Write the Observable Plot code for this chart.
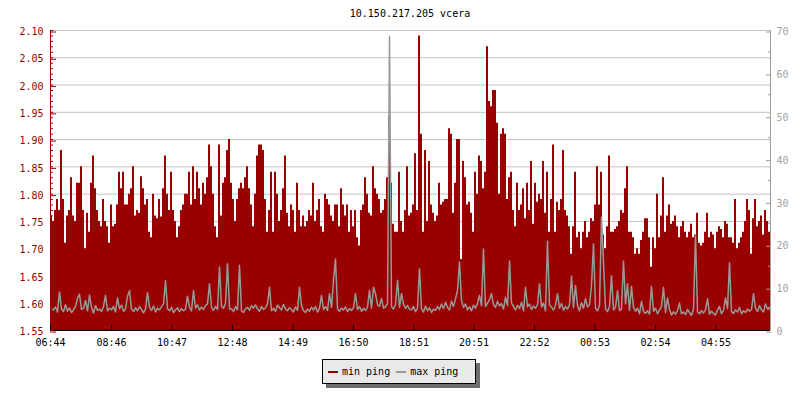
<!DOCTYPE html>
<html>
<head>
<meta charset="utf-8">
<script src="https://cdn.jsdelivr.net/npm/d3@7"></script>
<script src="https://cdn.jsdelivr.net/npm/@observablehq/plot@0.6"></script>
<style>
  body { margin: 0; background: #fff; font-family: "DejaVu Sans Mono", monospace; }
  #wrap { position: relative; width: 800px; height: 400px; }
  #chart svg { display: block; }
  #title { position: absolute; left: 50px; width: 720px; top: 8px; text-align: center;
           font-size: 10px; line-height: 12px; color: #000; }
  #legend { position: absolute; left: 322px; top: 359px; width: 152px; height: 23px;
            background: #e9e9e9; border: 1px solid #000; box-shadow: 4px 4px 0 #6e6e6e;
            font-size: 10px; line-height: 12px; display: flex; align-items: center; color: #000; }
  #legend .sw { display: inline-block; width: 10px; height: 2px; margin: 0 4px 0 5px; }
  #legend .item { display: flex; align-items: center; white-space: pre; }
</style>
</head>
<body>
<div id="wrap">
  <div id="chart"></div>
  <div id="title"></div>
  <div id="legend"></div>
</div>
<script>
const chartTitle = "10.150.217.205 vcera";
const seriesNames = ["min ping", "max ping"];
const seriesColors = ["#990000", "#999999"];

// left axis (min ping) ticks
const leftTicks = [1.55, 1.60, 1.65, 1.70, 1.75, 1.80, 1.85, 1.90, 1.95, 2.00, 2.05, 2.10];
// right axis (max ping) ticks
const rightTicks = [0, 10, 20, 30, 40, 50, 60, 70];
const rightMinor = [5, 15, 25, 35, 45, 55, 65];
// time axis labels
const timeLabels = ["06:44", "08:46", "10:47", "12:48", "14:49", "16:50", "18:51", "20:51", "22:52", "00:53", "02:54", "04:55"];
const spanMinutes = 1440;

// min ping samples (every 4 minutes from 06:44)
const minPing = [
1.76,1.75,1.77,1.79,1.77,1.88,1.79,1.71,1.76,1.77,
1.83,1.76,1.75,1.82,1.82,1.85,1.77,1.70,1.765,1.73,
1.82,1.87,1.81,1.77,1.75,1.74,1.79,1.75,1.74,1.71,
1.78,1.74,1.745,1.78,1.84,1.81,1.84,1.78,1.78,1.80,
1.81,1.85,1.76,1.77,1.765,1.832,1.81,1.78,1.79,1.73,
1.72,1.80,1.76,1.755,1.79,1.758,1.81,1.87,1.80,1.77,
1.84,1.77,1.75,1.72,1.74,1.77,1.78,1.80,1.80,1.84,
1.78,1.85,1.79,1.84,1.81,1.78,1.82,1.80,1.83,1.89,
1.85,1.80,1.74,1.72,1.89,1.76,1.82,1.83,1.88,1.90,

1.82,1.79,1.75,1.79,1.81,1.82,1.81,1.83,1.85,1.81,
1.78,1.74,1.80,1.87,1.89,1.89,1.88,1.79,1.73,1.77,
1.84,1.73,1.84,1.80,1.75,1.77,1.81,1.87,1.765,1.74,
1.78,1.77,1.73,1.82,1.77,1.74,1.76,1.74,1.75,1.77,
1.76,1.82,1.75,1.77,1.79,1.74,1.73,1.80,1.79,1.78,
1.76,1.75,1.78,1.78,1.74,1.81,1.78,1.76,1.78,1.73,
1.77,1.74,1.77,1.72,1.705,1.77,1.78,1.83,1.80,1.765,
1.76,1.85,1.81,1.80,1.79,1.765,1.77,1.79,1.83,1.94,
1.82,1.745,1.73,1.73,1.84,1.75,1.73,1.77,1.85,1.76,

1.765,1.78,1.874,1.77,2.09,1.91,1.73,1.88,1.75,1.86,
1.78,1.765,1.75,1.76,1.82,1.78,1.785,1.79,1.79,1.92,
1.91,1.765,1.82,1.90,1.90,1.68,1.86,1.83,1.78,1.785,
1.765,1.73,1.84,1.80,1.87,1.86,1.81,1.84,2.07,1.97,
1.96,1.99,1.99,1.93,1.80,1.91,1.92,1.91,1.79,1.83,
1.84,1.77,1.74,1.82,1.77,1.78,1.81,1.755,1.82,1.77,
1.86,1.745,1.82,1.785,1.80,1.79,1.86,1.765,1.84,1.73,
1.79,1.89,1.73,1.785,1.77,1.79,1.88,1.77,1.76,1.74,
1.69,1.74,1.84,1.72,1.73,1.70,1.73,1.75,1.72,1.73,

1.755,1.75,1.78,1.85,1.78,1.84,1.725,1.70,1.74,1.87,
1.73,1.73,1.735,1.74,1.75,1.77,1.765,1.81,1.85,1.73,
1.73,1.72,1.69,1.70,1.69,1.715,1.73,1.755,1.755,1.72,
1.666,1.72,1.70,1.80,1.72,1.76,1.83,1.73,1.76,1.78,
1.745,1.75,1.76,1.74,1.72,1.74,1.75,1.73,1.72,1.73,
1.745,1.72,1.725,1.765,1.71,1.705,1.71,1.73,1.765,1.72,
1.73,1.725,1.70,1.73,1.74,1.735,1.72,1.75,1.745,1.72,
1.72,1.71,1.79,1.70,1.71,1.72,1.73,1.75,1.79,1.77,
1.69,1.755,1.79,1.74,1.75,1.76,1.725,1.77,1.75,1.73
];

// max ping samples (ms, right axis)
const maxPing = [
5.2,4.8,5.5,4.3,9.0,5.0,4.4,6.0,4.5,5.3,
4.2,4.8,5.6,7.5,8.5,4.9,5.2,7.0,4.6,8.3,
5.4,4.1,5.8,4.7,5.0,4.4,5.6,8.2,4.6,5.2,
4.8,5.6,4.3,7.6,5.1,5.9,4.5,5.0,8.0,9.3,
5.0,4.4,5.3,4.6,5.6,4.9,4.1,5.0,8.8,5.4,
4.7,5.7,4.3,5.2,4.8,5.5,6.2,11.6,5.1,4.6,
5.4,4.2,4.8,5.3,4.4,5.1,4.6,5.0,8.0,5.4,
4.6,9.3,5.2,6.0,4.8,5.5,4.9,5.8,6.2,10.9,
5.4,4.7,5.6,4.9,14.8,5.7,5.2,6.3,15.6,5.0,

5.0,4.4,5.6,4.8,15.2,4.6,4.2,5.1,5.4,4.7,
5.8,5.2,6.0,5.0,4.5,5.6,4.9,5.3,6.2,10.1,
4.6,5.2,4.4,5.9,5.3,4.8,6.1,5.0,4.6,5.3,
4.9,4.3,5.5,4.7,10.1,5.8,4.6,4.2,5.0,4.5,
5.4,4.8,5.6,4.3,5.2,8.2,4.9,5.6,4.7,8.6,
5.4,11.7,16.7,5.0,4.5,5.2,4.8,5.5,4.4,5.1,
4.7,5.3,8.6,4.9,5.6,4.5,5.2,4.7,5.4,9.4,
5.2,10.1,8.6,6.0,5.6,7.5,5.2,5.5,6.3,68.6,
5.6,5.0,6.0,11.7,5.4,8.6,6.1,5.2,5.8,5.0,

4.8,5.6,4.4,5.2,14.4,5.0,4.3,5.7,4.6,5.3,
4.2,5.0,4.7,5.6,4.9,6.2,5.1,6.6,5.4,4.8,
6.9,5.6,7.4,9.3,16.0,7.0,5.4,6.2,4.8,5.5,
4.6,5.9,5.2,6.3,8.2,5.8,19.0,5.6,6.4,7.2,
8.6,6.0,5.4,6.8,5.7,6.3,5.0,7.8,5.8,16.2,
6.4,5.6,4.8,5.9,5.1,6.6,4.6,10.1,5.5,6.2,
4.9,5.7,5.2,6.0,10.9,5.5,6.4,4.6,20.8,6.0,
5.4,4.8,5.9,8.6,5.2,6.3,4.7,5.6,5.0,6.0,
12.7,5.3,10.5,5.8,4.6,6.5,5.2,7.4,5.5,6.0,

10.5,20.2,5.2,4.6,5.8,26.4,16.0,5.0,4.4,5.6,
12.8,4.8,5.4,9.3,4.6,5.0,16.2,6.2,10.9,4.7,
10.3,5.4,4.5,5.2,3.9,6.8,4.4,4.0,4.6,3.8,
10.3,4.5,5.2,3.9,4.8,5.6,10.1,4.2,7.6,4.9,
3.6,4.4,3.8,4.6,6.4,3.9,4.3,3.7,4.9,4.2,
3.5,5.0,22.3,4.4,3.9,4.6,4.1,4.8,7.4,3.8,
4.5,4.0,3.6,4.8,5.6,3.9,4.7,7.6,5.1,15.8,
4.4,4.0,4.8,4.3,5.4,3.9,4.6,4.2,5.0,4.5,
4.9,8.6,5.2,4.4,5.8,4.8,4.3,6.2,5.0,5.4
];

// ---- build ----
const step = spanMinutes / minPing.length;
const data = minPing.map((v, i) => ({t: i * step, min: v, max: maxPing[i]}));
const areaData = data.concat([{t: spanMinutes, min: minPing[minPing.length - 1], max: maxPing[maxPing.length - 1]}]);

const toMin = s => { const [h, m] = s.split(":").map(Number); return h * 60 + m; };
const t0 = toMin(timeLabels[0]);
const tickMinutes = timeLabels.map(s => ((toMin(s) - t0) % 1440 + 1440) % 1440);
const labelOf = new Map(tickMinutes.map((m, i) => [m, timeLabels[i]]));

const yLo = leftTicks[0], yHi = leftTicks[leftTicks.length - 1];
const toLeft = d3.scaleLinear().domain([rightTicks[0], rightTicks[rightTicks.length - 1]]).range([yLo, yHi]);
const leftMinor = d3.range(Math.round(yLo * 100), Math.round(yHi * 100) + 1).map(v => v / 100);

const red = seriesColors[0], gray = seriesColors[1];
const axisGray = "#a0a0a0";

const chart = Plot.plot({
  width: 800,
  height: 400,
  marginLeft: 50,
  marginRight: 30,
  marginTop: 30,
  marginBottom: 70,
  x: {domain: [0, spanMinutes], label: null},
  y: {domain: [yLo, yHi], label: null},
  style: {fontFamily: "DejaVu Sans Mono", fontSize: "10px", background: "#fff"},
  marks: [
    Plot.ruleY(leftTicks, {stroke: "#c2c2c2"}),
    Plot.areaY(areaData, {x: "t", y1: yLo, y2: "min", curve: "step-after", fill: red, clip: true}),
    Plot.lineY(data, {x: d => d.t + step / 2, y: d => toLeft(d.max), curve: "linear", stroke: gray, strokeWidth: 1.5, clip: true}),
    Plot.ruleX([0], {stroke: red}),
    Plot.ruleX([spanMinutes], {stroke: axisGray}),
    Plot.ruleY([yLo], {stroke: "#000"}),
    Plot.axisY(leftMinor, {anchor: "left", tickSize: -3, tickFormat: () => "", color: red, label: null}),
    Plot.axisY(leftTicks, {anchor: "left", tickSize: -6, tickPadding: 13, dy: 1.5, tickFormat: d3.format(".2f"), color: red, label: null}),
    Plot.axisY(rightMinor.map(toLeft), {anchor: "right", tickSize: -3, tickFormat: () => "", color: axisGray, label: null}),
    Plot.axisY(rightTicks.map(toLeft), {anchor: "right", tickSize: -5, tickPadding: 11, dy: 1.5,
      tickFormat: d => String(Math.round(toLeft.invert(d))), color: axisGray, label: null}),
    Plot.axisX(tickMinutes, {anchor: "bottom", tickSize: -5, tickPadding: 13, tickFormat: d => labelOf.get(d), color: "#000", label: null})
  ]
});
document.getElementById("chart").appendChild(chart);

document.getElementById("title").textContent = chartTitle;
const legend = document.getElementById("legend");
seriesNames.forEach((name, i) => {
  const item = document.createElement("span");
  item.className = "item";
  const sw = document.createElement("span");
  sw.className = "sw";
  sw.style.background = seriesColors[i];
  if (i > 0) sw.style.marginLeft = "6px";
  item.appendChild(sw);
  item.appendChild(document.createTextNode(name));
  legend.appendChild(item);
});
</script>
</body>
</html>
